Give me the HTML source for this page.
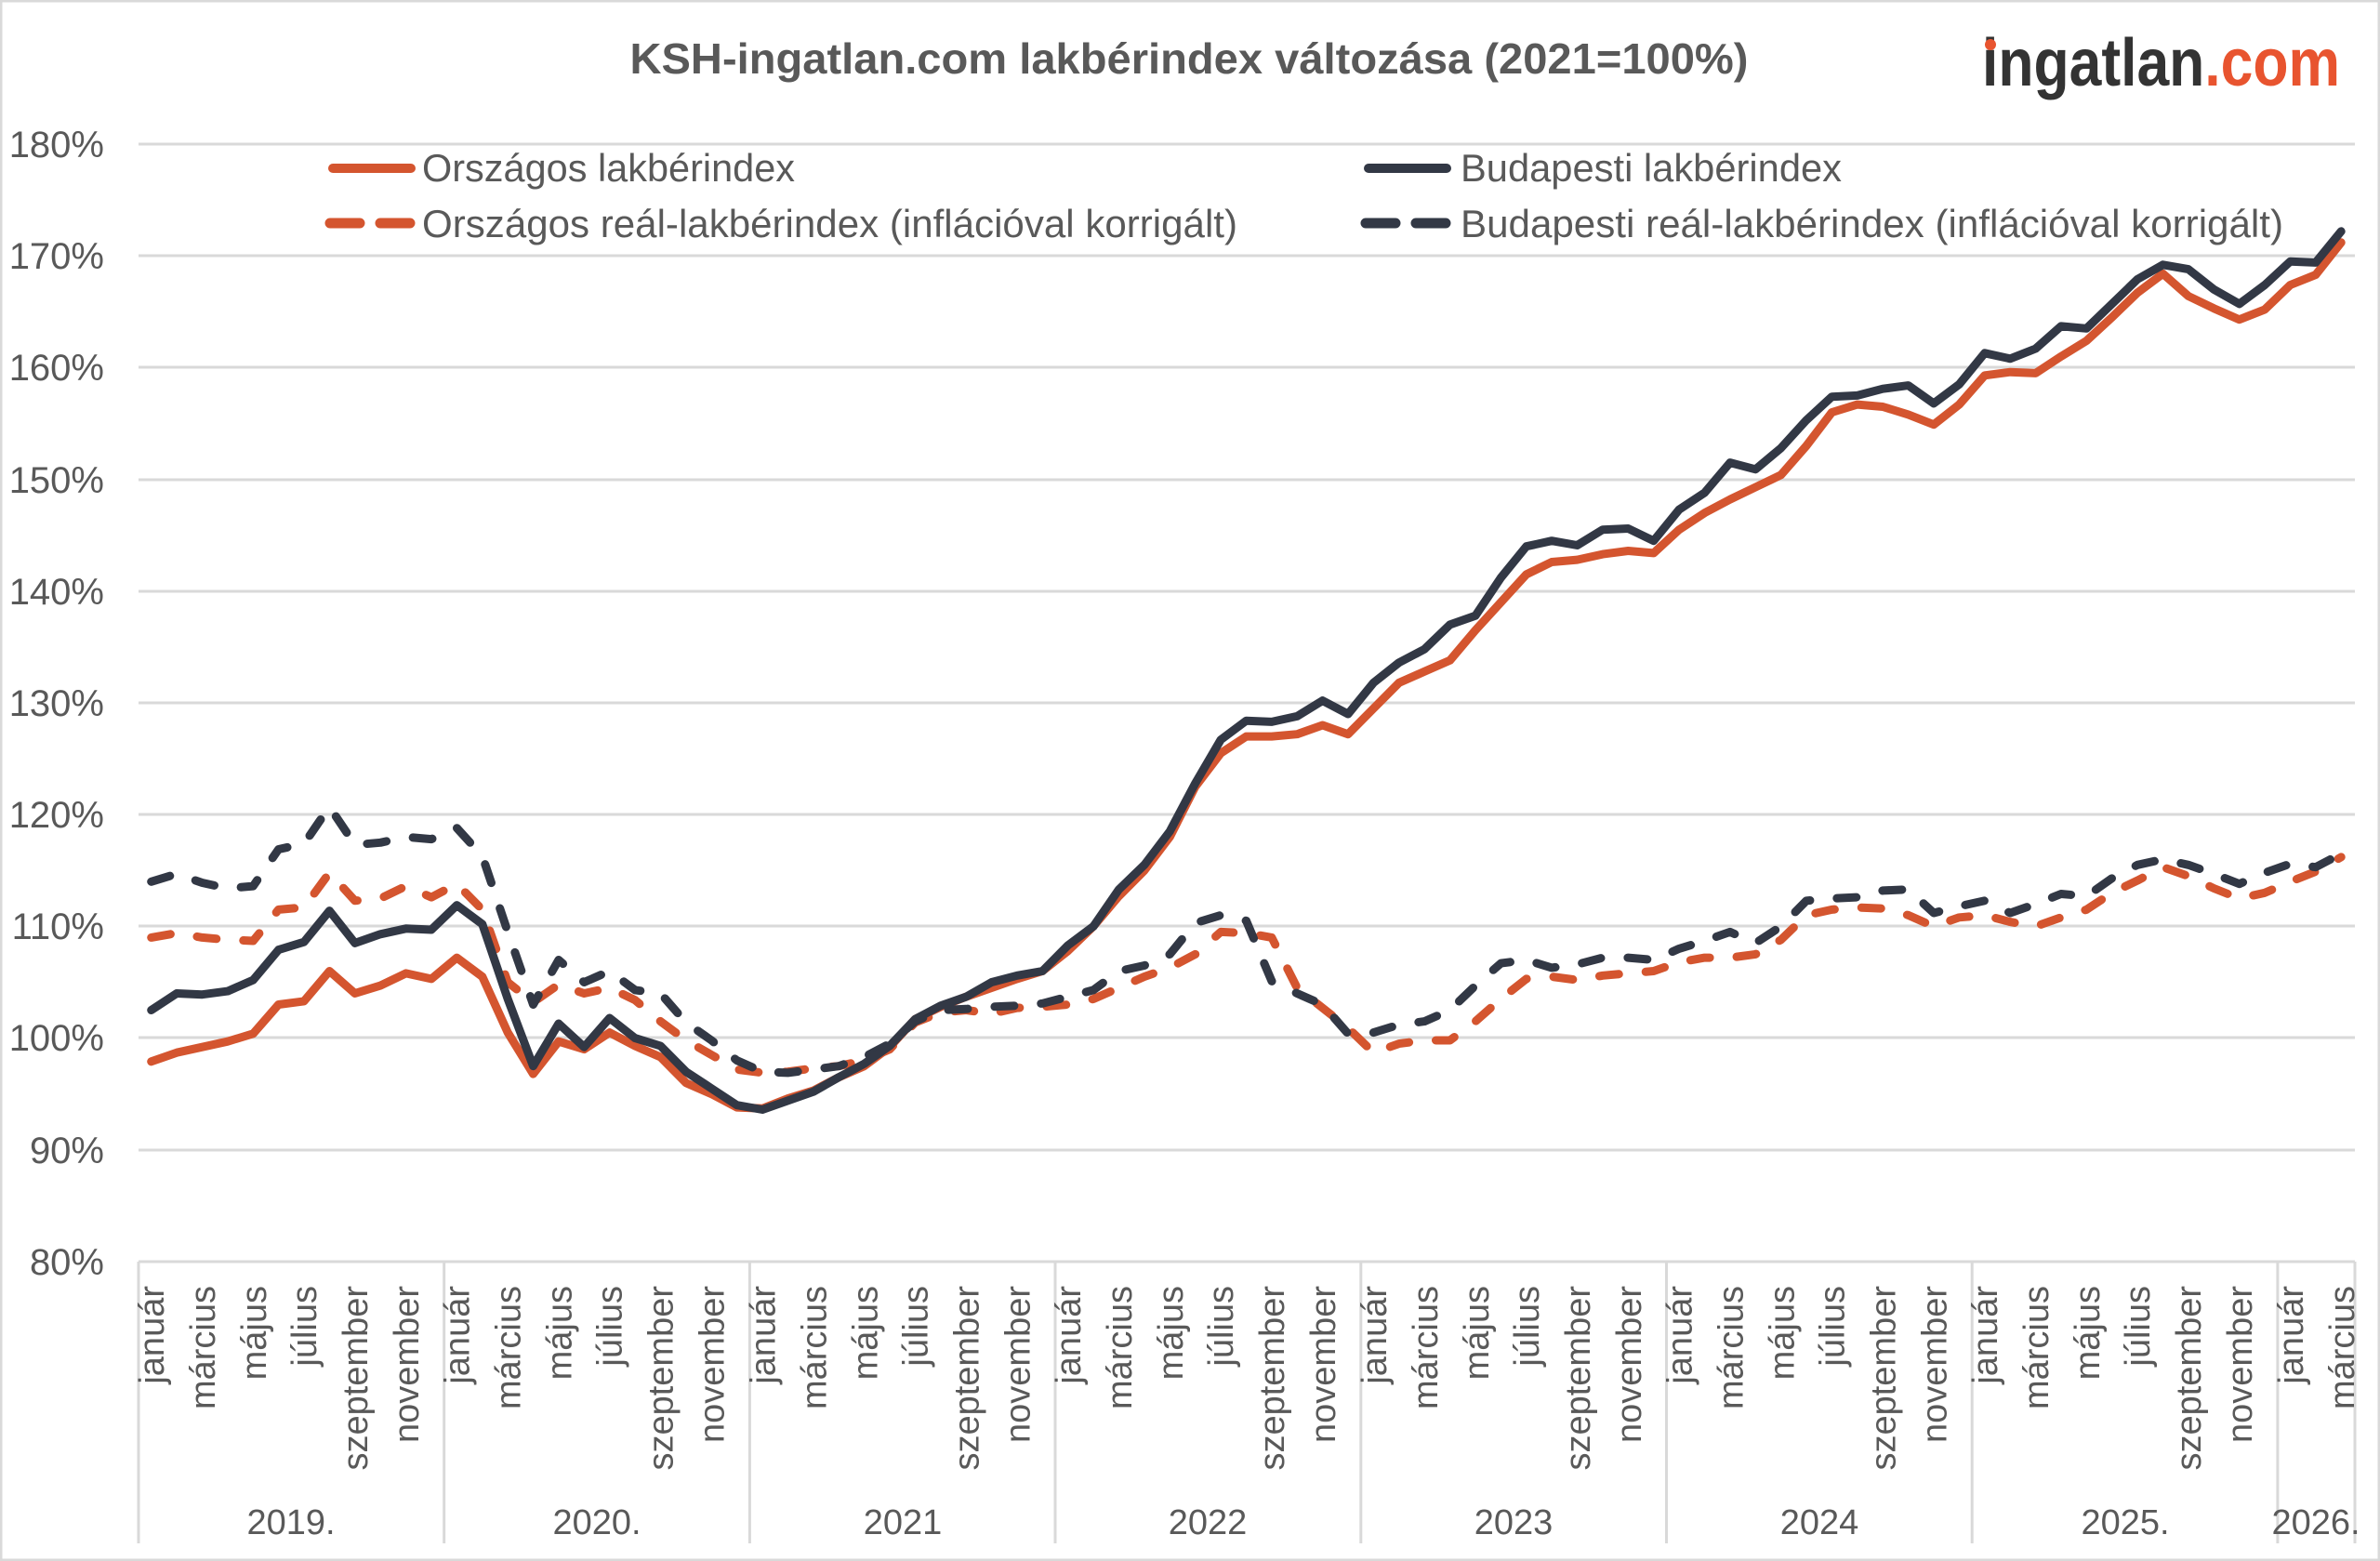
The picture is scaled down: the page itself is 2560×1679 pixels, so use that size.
<!DOCTYPE html>
<html><head><meta charset="utf-8"><style>
html,body{margin:0;padding:0;background:#fff;}
svg{display:block;}
text{font-family:"Liberation Sans",sans-serif;fill:#595959;}
</style></head><body>
<svg id="c" width="2560" height="1679" viewBox="0 0 2560 1679" xmlns="http://www.w3.org/2000/svg">
<rect x="1" y="1" width="2558" height="1677" fill="#fff" stroke="#d9d9d9" stroke-width="3"/>
<g stroke="#d9d9d9" stroke-width="3">
<line x1="149" x2="2533" y1="155" y2="155"/><line x1="149" x2="2533" y1="275" y2="275"/>
<line x1="149" x2="2533" y1="395" y2="395"/><line x1="149" x2="2533" y1="516" y2="516"/>
<line x1="149" x2="2533" y1="636" y2="636"/><line x1="149" x2="2533" y1="756" y2="756"/>
<line x1="149" x2="2533" y1="876" y2="876"/><line x1="149" x2="2533" y1="996" y2="996"/>
<line x1="149" x2="2533" y1="1116" y2="1116"/><line x1="149" x2="2533" y1="1237" y2="1237"/>
<line x1="149" x2="2533" y1="1357" y2="1357"/>
<line x1="149" x2="149" y1="1357" y2="1660"/><line x1="477.7" x2="477.7" y1="1357" y2="1660"/>
<line x1="806.4" x2="806.4" y1="1357" y2="1660"/><line x1="1135" x2="1135" y1="1357" y2="1660"/>
<line x1="1463.8" x2="1463.8" y1="1357" y2="1660"/><line x1="1792.5" x2="1792.5" y1="1357" y2="1660"/>
<line x1="2121.2" x2="2121.2" y1="1357" y2="1660"/><line x1="2449.9" x2="2449.9" y1="1357" y2="1660"/>
<line x1="2533" x2="2533" y1="1357" y2="1660"/>
</g>
<g font-size="40" text-anchor="end">
<text x="112" y="169">180%</text><text x="112" y="289">170%</text><text x="112" y="409">160%</text>
<text x="112" y="530">150%</text><text x="112" y="650">140%</text><text x="112" y="770">130%</text>
<text x="112" y="890">120%</text><text x="112" y="1010">110%</text><text x="112" y="1130">100%</text>
<text x="112" y="1251">90%</text><text x="112" y="1371">80%</text>
</g>
<text x="1279" y="79" font-size="46" font-weight="bold" text-anchor="middle" textLength="1203" lengthAdjust="spacingAndGlyphs">KSH-ingatlan.com lakbérindex változása (2021=100%)</text>
<text x="2132" y="92" font-size="72" font-weight="bold" textLength="385" lengthAdjust="spacingAndGlyphs" style="fill:#333"><tspan style="fill:#333">ingatlan</tspan><tspan style="fill:#e8542f">.com</tspan></text>
<circle cx="2141" cy="48" r="6" fill="#e8542f"/>
<g id="series"></g>
<rect x="353" y="176" width="94" height="10" rx="5" fill="#d4552f"/>
<line x1="355" x2="449" y1="240" y2="240" stroke="#d4552f" stroke-width="11" stroke-linecap="round" stroke-dasharray="32 22"/>
<rect x="1467" y="176" width="94" height="10" rx="5" fill="#323845"/>
<line x1="1469" x2="1563" y1="240" y2="240" stroke="#323845" stroke-width="11" stroke-linecap="round" stroke-dasharray="32 22"/>
<g font-size="42">
<text x="454" y="195" textLength="401" lengthAdjust="spacingAndGlyphs">Országos lakbérindex</text>
<text x="454" y="255" textLength="877" lengthAdjust="spacingAndGlyphs">Országos reál-lakbérindex (inflációval korrigált)</text>
<text x="1571" y="195" textLength="410" lengthAdjust="spacingAndGlyphs">Budapesti lakbérindex</text>
<text x="1571" y="255" textLength="885" lengthAdjust="spacingAndGlyphs">Budapesti reál-lakbérindex (inflációval korrigált)</text>
</g>
<g font-size="38" text-anchor="end">
<g id="yr0">
<text transform="translate(176,1383) rotate(-90)">január</text>
<text transform="translate(231,1383) rotate(-90)">március</text>
<text transform="translate(286,1383) rotate(-90)">május</text>
<text transform="translate(340,1383) rotate(-90)">július</text>
<text transform="translate(395,1383) rotate(-90)">szeptember</text>
<text transform="translate(450,1383) rotate(-90)">november</text>
</g>
<g transform="translate(328.7,0)">
<text transform="translate(176,1383) rotate(-90)">január</text>
<text transform="translate(231,1383) rotate(-90)">március</text>
<text transform="translate(286,1383) rotate(-90)">május</text>
<text transform="translate(340,1383) rotate(-90)">július</text>
<text transform="translate(395,1383) rotate(-90)">szeptember</text>
<text transform="translate(450,1383) rotate(-90)">november</text>
</g>
<g transform="translate(657.4,0)">
<text transform="translate(176,1383) rotate(-90)">január</text>
<text transform="translate(231,1383) rotate(-90)">március</text>
<text transform="translate(286,1383) rotate(-90)">május</text>
<text transform="translate(340,1383) rotate(-90)">július</text>
<text transform="translate(395,1383) rotate(-90)">szeptember</text>
<text transform="translate(450,1383) rotate(-90)">november</text>
</g>
<g transform="translate(986.1,0)">
<text transform="translate(176,1383) rotate(-90)">január</text>
<text transform="translate(231,1383) rotate(-90)">március</text>
<text transform="translate(286,1383) rotate(-90)">május</text>
<text transform="translate(340,1383) rotate(-90)">július</text>
<text transform="translate(395,1383) rotate(-90)">szeptember</text>
<text transform="translate(450,1383) rotate(-90)">november</text>
</g>
<g transform="translate(1314.8,0)">
<text transform="translate(176,1383) rotate(-90)">január</text>
<text transform="translate(231,1383) rotate(-90)">március</text>
<text transform="translate(286,1383) rotate(-90)">május</text>
<text transform="translate(340,1383) rotate(-90)">július</text>
<text transform="translate(395,1383) rotate(-90)">szeptember</text>
<text transform="translate(450,1383) rotate(-90)">november</text>
</g>
<g transform="translate(1643.5,0)">
<text transform="translate(176,1383) rotate(-90)">január</text>
<text transform="translate(231,1383) rotate(-90)">március</text>
<text transform="translate(286,1383) rotate(-90)">május</text>
<text transform="translate(340,1383) rotate(-90)">július</text>
<text transform="translate(395,1383) rotate(-90)">szeptember</text>
<text transform="translate(450,1383) rotate(-90)">november</text>
</g>
<g transform="translate(1972.2,0)">
<text transform="translate(176,1383) rotate(-90)">január</text>
<text transform="translate(231,1383) rotate(-90)">március</text>
<text transform="translate(286,1383) rotate(-90)">május</text>
<text transform="translate(340,1383) rotate(-90)">július</text>
<text transform="translate(395,1383) rotate(-90)">szeptember</text>
<text transform="translate(450,1383) rotate(-90)">november</text>
</g>
<g transform="translate(2300.9,0)">
<text transform="translate(176,1383) rotate(-90)">január</text>
<text transform="translate(231,1383) rotate(-90)">március</text>
</g>
</g>
<g font-size="38" text-anchor="middle">
<text x="313" y="1650">2019.</text><text x="642" y="1650">2020.</text><text x="971" y="1650">2021</text>
<text x="1299" y="1650">2022</text><text x="1628" y="1650">2023</text><text x="1957" y="1650">2024</text>
<text x="2286" y="1650">2025.</text><text x="2491" y="1650">2026.</text>
</g>
</svg>
<script>
var on=[97.9,98.7,99.2,99.7,100.4,103.0,103.3,106.0,104.0,104.7,105.8,105.3,
107.2,105.5,100.5,96.8,99.7,99.0,100.5,99.3,98.3,96.0,95.0,93.8,
93.7,94.6,95.3,96.5,97.5,99.2,101.7,102.8,103.7,104.5,105.3,106.0,
107.8,110.0,112.7,115.0,118.0,122.5,125.5,127.0,127.0,127.2,128.0,127.2,
129.5,131.8,132.8,133.8,136.5,139.0,141.5,142.6,142.8,143.3,143.6,143.4,
145.5,147.0,148.2,149.3,150.4,153.0,156.0,156.7,156.5,155.8,154.9,156.7,
159.3,159.6,159.5,161.0,162.4,164.5,166.7,168.4,166.4,165.3,164.3,165.2,
167.4,168.3,171.2];
var bn=[102.5,104.0,103.9,104.2,105.2,107.9,108.6,111.4,108.5,109.3,109.8,109.7,
111.9,110.2,103.5,97.5,101.3,99.2,101.8,100.0,99.3,97.0,95.5,94.0,
93.6,94.4,95.2,96.5,97.7,99.3,101.7,102.9,103.7,105.0,105.6,106.0,
108.3,110.0,113.3,115.5,118.5,122.8,126.7,128.4,128.3,128.8,130.2,129.0,
131.8,133.6,134.8,137.0,137.8,141.2,144.0,144.5,144.1,145.5,145.6,144.5,
147.3,148.8,151.5,150.9,152.8,155.3,157.4,157.5,158.1,158.4,156.8,158.5,
161.3,160.8,161.7,163.7,163.5,165.7,167.9,169.2,168.8,167.0,165.7,167.4,
169.5,169.4,172.2];
var or=[109.0,109.4,109.0,108.8,108.7,111.5,111.7,114.8,112.3,112.5,113.6,112.6,
113.8,111.5,105.0,103.2,104.8,104.0,104.5,103.4,101.5,99.8,98.5,97.2,
96.9,97.0,97.3,97.5,98.0,99.0,101.4,102.3,102.5,102.2,102.7,102.8,
103.0,103.5,104.5,105.5,106.3,107.5,109.5,109.4,109.0,104.5,102.7,100.9,
98.7,99.5,99.8,99.8,101.5,103.5,105.3,105.5,105.2,105.6,105.8,106.0,
106.8,107.2,107.2,107.5,108.8,111.0,111.5,111.7,111.6,111.0,110.0,110.8,
111.0,110.4,110.0,110.8,111.5,113.0,114.1,115.3,114.5,113.4,112.5,113.0,
114.0,114.9,116.2];
var br=[114.0,114.7,113.9,113.4,113.6,116.9,117.4,120.7,117.3,117.5,118.0,117.8,
118.8,116.3,109.5,103.0,107.0,105.0,106.0,104.3,104.0,101.4,99.8,98.0,
97.0,96.9,97.2,97.5,98.3,99.5,101.5,102.5,102.6,102.8,102.9,103.1,
103.7,104.3,106.0,106.5,107.5,110.3,111.0,110.5,105.1,104.0,103.0,100.4,
100.5,101.2,101.5,102.5,104.7,106.7,107.0,106.3,106.6,107.2,107.2,107.0,
108.0,108.7,109.5,108.5,110.0,112.3,112.5,112.6,113.2,113.3,111.2,111.8,
112.3,111.2,112.0,112.9,112.7,114.3,115.5,116.0,115.5,114.7,113.8,114.8,
115.6,115.3,116.5];
function P(a){return a.map(function(v,i){return (i?'L':'M')+(149+27.39*(i+0.5)).toFixed(1)+','+(155+(180-v)*12.02).toFixed(1);}).join('');}
var g=document.getElementById('series'),s='';
function add(d,c,dash){s+='<path d="'+d+'" fill="none" stroke="'+c+'" stroke-width="9" stroke-linejoin="round" stroke-linecap="round"'+(dash?' stroke-dasharray="21 29"':'')+'/>';}
add(P(or),'#d4552f',1);add(P(on),'#d4552f',0);add(P(br),'#323845',1);add(P(bn),'#323845',0);
g.innerHTML=s;
</script>
</body></html>
